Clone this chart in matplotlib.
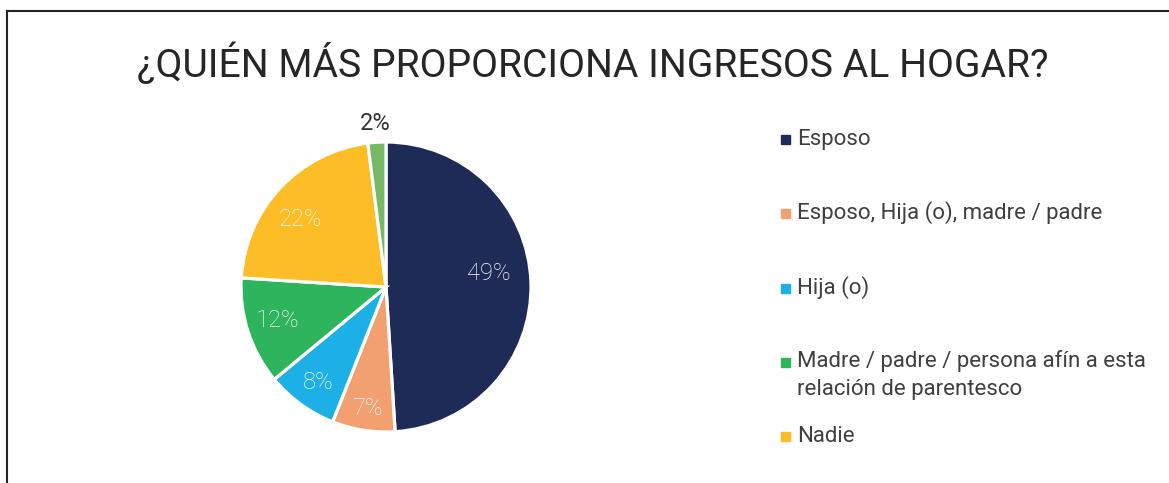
import matplotlib
matplotlib.use("Agg")
import matplotlib.pyplot as plt
from matplotlib.patches import Rectangle
import numpy as np

plt.rcParams['font.family'] = ['Roboto', 'DejaVu Sans']

# data
categorias = ["Esposo", "Esposo, Hija (o), madre / padre", "Hija (o)",
              "Madre / padre / persona afín a esta\nrelación de parentesco",
              "Nadie", "Otro"]
valores = [49, 7, 8, 12, 22, 2]
colores = ["#1e2b57", "#f2a070", "#1db0e6", "#2db45d", "#fdbd26", "#76b865"]
en_leyenda = [True, True, True, True, True, False]

# label placement inside slices (radius fraction, angle shift in degrees)
lab_dist = [0.72, 0.83, 0.79, 0.78, 0.76, 1.15]
lab_shift = [7, 0, 0, -2, 4, 0]

W, H = 1169, 483
fig = plt.figure(figsize=(W / 100, H / 100), dpi=100)

# frame (top and left lines only visible)
fig.add_artist(plt.Line2D([7 / W, 7 / W], [0, 1 - 11 / H], color="#222222", lw=1.5))
fig.add_artist(plt.Line2D([7 / W, 1], [1 - 11 / H, 1 - 11 / H], color="#222222", lw=1.5))

fig.text(0.507, 1 - 64 / H, "¿QUIÉN MÁS PROPORCIONA INGRESOS AL HOGAR?",
         ha="center", va="center", fontsize=28.2, color="#262626")

# pie
cx, cy, r = 386, 287, 145
ax = fig.add_axes([(cx - r) / W, (H - cy - r) / H, 2 * r / W, 2 * r / H])
wedges, _ = ax.pie(valores, colors=colores, startangle=90, counterclock=False,
                   wedgeprops=dict(edgecolor="white", linewidth=2.3))
ax.set_xlim(-1, 1)
ax.set_ylim(-1, 1)
ax.set_aspect("auto")

total = sum(valores)
for w, v, d, sh in zip(wedges, valores, lab_dist, lab_shift):
    ang = np.deg2rad((w.theta1 + w.theta2) / 2 + sh)
    pct = f"{round(100 * v / total)}%"
    if d > 1:
        col, wt = "#333333", "normal"
    else:
        col, wt = "white", "light"
    ax.text(d * np.cos(ang), d * np.sin(ang), pct, ha="center",
            va="center_baseline", fontsize=17, color=col, fontweight=wt)

# legend
ley_y = [139, 213, 288, 375, 436]
i = 0
for cat, col, show in zip(categorias, colores, en_leyenda):
    if not show:
        continue
    y = ley_y[i]
    i += 1
    nl = cat.count("\n")
    ytop = y - 13 * nl
    fig.add_artist(Rectangle((781 / W, 1 - (ytop + 5) / H), 9 / W, 9 / H,
                             transform=fig.transFigure, color=col))
    fig.text(797 / W, 1 - y / H, cat, ha="left", va="center", fontsize=16,
             color="#404040", linespacing=1.38)

fig.savefig("out.png", dpi=100)
